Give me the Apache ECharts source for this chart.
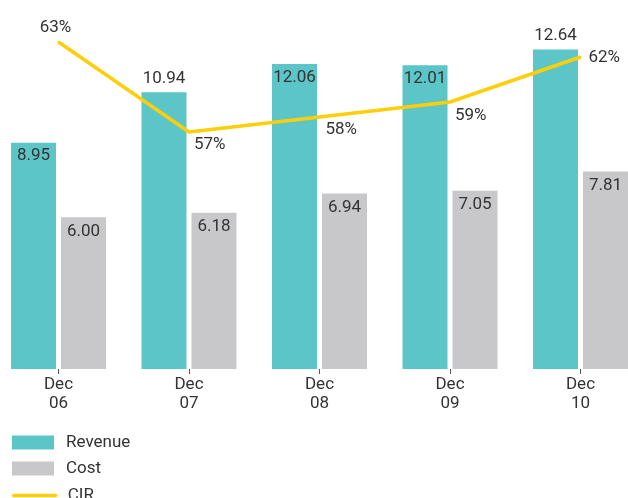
<!DOCTYPE html>
<html>
<head>
<meta charset="utf-8">
<script src="https://cdn.jsdelivr.net/npm/echarts@6/dist/echarts.min.js"></script>
<style>
  html, body { margin: 0; padding: 0; background: #fff; }
  #chart { width: 628px; height: 498px; }
</style>
</head>
<body>
<div id="chart"></div>
<script>
// values
const categories = ['Dec\n06', 'Dec\n07', 'Dec\n08', 'Dec\n09', 'Dec\n10'];
const revenue = [8.95, 10.94, 12.06, 12.01, 12.64];
const cost = [6.00, 6.18, 6.94, 7.05, 7.81];
const cir = [63, 57, 58, 59, 62];
const legendNames = ['Revenue', 'Cost', 'CIR'];

// where each label sits (style, not data)
const revenueLabelPos = ['insideTop', 'top', 'insideTop', 'insideTop', 'top'];
const cirLabelStyle = [
    { position: 'top', distance: 5, offset: [-3, 0] },
    { position: 'right', distance: 4, offset: [0, 13] },
    { position: 'right', distance: 5, offset: [0, 13] },
    { position: 'right', distance: 4, offset: [0, 14] },
    { position: 'right', distance: 7, offset: [0, 1] }
];
const legendTops = [434, 460, 487];

const textColor = '#333';
const font = 'Roboto';
const lineColor = '#fccf0a';

const chart = echarts.init(document.getElementById('chart'));

// one legend per row, otherwise the vertical legend wraps into a second column
const legends = legendNames.map((name, i) => {
    const lg = {
        orient: 'vertical',
        left: 12,
        top: legendTops[i],
        padding: 0,
        itemWidth: 42,
        itemHeight: 14,
        textStyle: {
            color: textColor,
            fontFamily: font,
            fontSize: 17,
            padding: [0, 0, 0, 7]
        },
        data: [name]
    };
    if (name === 'CIR') {
        // keep the line, hide the dot
        lg.itemStyle = { opacity: 0 };
        lg.lineStyle = { width: 3.5, cap: 'round' };
    } else {
        lg.icon = 'rect';
    }
    return lg;
});

chart.setOption({
    animation: false,
    grid: {
        left: -6.75,
        right: -17.75,
        top: 15,
        bottom: 129,
        outerBoundsMode: 'none'
    },
    legend: legends,
    xAxis: {
        type: 'category',
        data: categories,
        axisLine: { show: false },
        axisTick: {
            show: true,
            alignWithLabel: true,
            length: 5,
            lineStyle: { color: '#555' }
        },
        axisLabel: {
            color: textColor,
            fontFamily: font,
            fontSize: 17,
            lineHeight: 19,
            margin: 6
        }
    },
    yAxis: [
        { type: 'value', min: 0, max: 14, show: false },
        { type: 'value', min: 41.2, max: 64.8, show: false }
    ],
    series: [
        {
            name: 'Revenue',
            type: 'bar',
            barWidth: 45,
            barGap: '11.1%',
            itemStyle: { color: '#5bc5c8' },
            label: {
                show: true,
                color: textColor,
                fontFamily: font,
                fontSize: 17,
                distance: 5
            },
            data: revenue.map((v, i) => ({
                value: v,
                label: { position: revenueLabelPos[i] }
            }))
        },
        {
            name: 'Cost',
            type: 'bar',
            barWidth: 45,
            itemStyle: { color: '#c8c8ca' },
            label: {
                show: true,
                position: 'insideTop',
                distance: 6,
                color: textColor,
                fontFamily: font,
                fontSize: 17,
                formatter: (p) => p.value.toFixed(2)
            },
            data: cost
        },
        {
            name: 'CIR',
            type: 'line',
            yAxisIndex: 1,
            symbol: 'circle',
            symbolSize: 2,
            itemStyle: { color: lineColor },
            lineStyle: { color: lineColor, width: 3.5 },
            label: {
                show: true,
                color: textColor,
                fontFamily: font,
                fontSize: 17,
                formatter: '{c}%'
            },
            data: cir.map((v, i) => ({
                value: v,
                label: cirLabelStyle[i]
            }))
        }
    ]
});
</script>
</body>
</html>
